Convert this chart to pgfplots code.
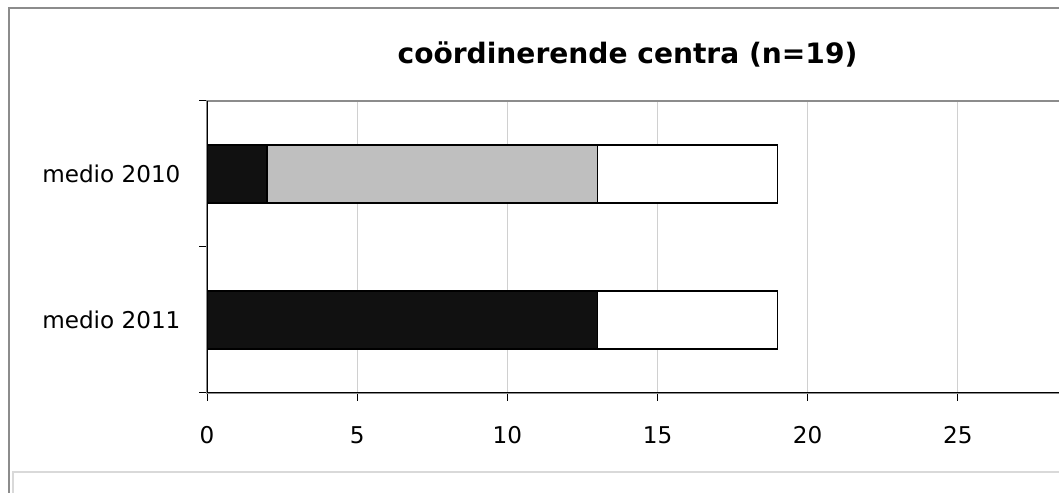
\documentclass[border=0pt]{standalone}
\usepackage{fontspec}
\setmainfont{DejaVu Sans}
\usepackage{pgfplots}
\pgfplotsset{compat=1.18}
\definecolor{barblack}{HTML}{111111}
\definecolor{bargray}{HTML}{BFBFBF}
\definecolor{framegray}{HTML}{8C8C8C}
\definecolor{gridgray}{HTML}{D0D0D0}
\definecolor{legendgray}{HTML}{D9D9D9}
\begin{document}
\begin{tikzpicture}[x=1bp,y=1bp]
\useasboundingbox (0,0) rectangle (1059,493);
\begin{scope}
\clip (0,0) rectangle (1059,493);
\fill[white] (0,0) rectangle (1059,493);
\draw[framegray, line width=1.5bp] (9,-20) -- (9,485) -- (1100,485);
\draw[legendgray, line width=1.2bp] (13,-20) -- (13,21) -- (1100,21);
\begin{axis}[
  at={(207bp,100bp)}, anchor=south west,
  scale only axis, width=901bp, height=292bp,
  xbar stacked, bar width=58bp,
  xmin=0, xmax=30, ymin=-0.5, ymax=1.5,
  xtick={0,5,...,25},
  ytick={-0.5,0.5,1.5}, yticklabels={},
  extra y ticks={0,1},
  extra y tick labels={medio 2011,medio 2010},
  extra y tick style={major tick length=0pt, ymajorgrids=false},
  xmajorgrids, major grid style={gridgray, line width=1bp},
  tick align=outside, major tick length=8bp,
  tick style={black, line width=1bp},
  xtick pos=bottom, ytick pos=left,
  axis line style={framegray, line width=2bp},
  /pgf/number format/assume math mode=true,
  ticklabel style={font=\fontsize{23.2}{27}\selectfont},
  xticklabel style={anchor=center, yshift=-34bp},
  yticklabel style={anchor=east, xshift=-23bp},
]
\addplot[fill=barblack, draw=black, line width=1.3bp] coordinates {(13,0) (2,1)};
\addplot[fill=bargray, draw=black, line width=1.3bp] coordinates {(0,0) (11,1)};
\addplot[fill=white, draw=black, line width=1.3bp] coordinates {(6,0) (6,1)};
\draw[black, line width=1.3bp] (rel axis cs:0,0) -- (rel axis cs:0,1);
\draw[black, line width=1.3bp] (rel axis cs:0,0) -- (rel axis cs:1,0);
\end{axis}
\node[font=\bfseries\fontsize{28.2}{33}\selectfont] at (627.5,439) {coördinerende centra (n=19)};
\end{scope}
\end{tikzpicture}
\end{document}
